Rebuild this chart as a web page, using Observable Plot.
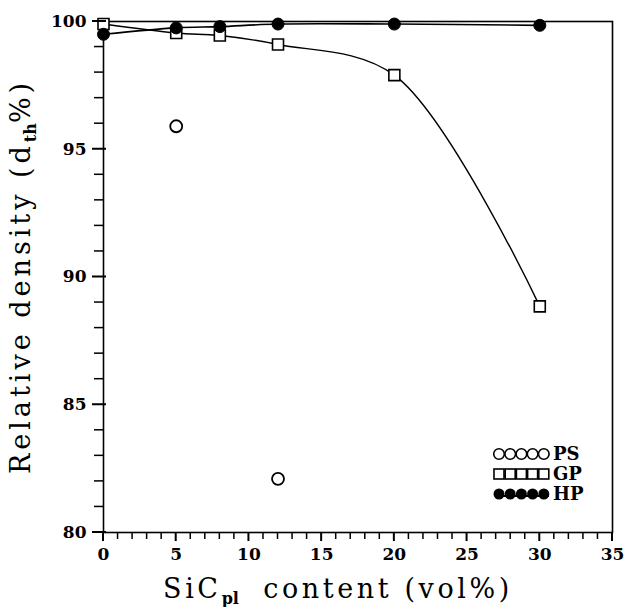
<!DOCTYPE html>
<html><head><meta charset="utf-8">
<script src="https://cdn.jsdelivr.net/npm/d3@7"></script>
<script src="https://cdn.jsdelivr.net/npm/@observablehq/plot@0.6"></script>
<style>
html,body{margin:0;padding:0;background:#fff;}
#chart{width:625px;height:607px;}
</style>
</head><body><div id="chart"></div>
<script>
// --- data ---
const psX = [5, 12];
const psY = [95.9, 82.1];
const gpX = [0, 5, 8, 12, 20, 30];
const gpY = [99.9, 99.55, 99.45, 99.1, 97.9, 88.85];
const hpX = [0, 5, 8, 12, 20, 30];
const hpY = [99.5, 99.75, 99.8, 99.9, 99.9, 99.85];
const xTicks = [0, 5, 10, 15, 20, 25, 30, 35];
const yTicks = [80, 85, 90, 95, 100];
const xMinorTicks = [0,1,2,3,4,5,6,7,8,9,10,11,12,13,14,15,16,17,18,19,20,21,22,23,24,25,26,27,28,29,30,31,32,33,34,35];
const yMinorTicks = [80,81,82,83,84,85,86,87,88,89,90,91,92,93,94,95,96,97,98,99,100];
const legendLabels = ["PS", "GP", "HP"];

const ps = psX.map((x, i) => ({x, y: psY[i]}));
const gp = gpX.map((x, i) => ({x, y: gpY[i]}));
const hp = hpX.map((x, i) => ({x, y: hpY[i]}));

const W = 625, H = 607;
const mL = 103, mR = 13, mT = 21, mB = 75;
const innerW = W - mL - mR, innerH = H - mT - mB;
const serif = "DejaVu Serif";

const chart = Plot.plot({
  width: W, height: H,
  marginLeft: mL, marginRight: mR, marginTop: mT, marginBottom: mB,
  x: {domain: [0, 35], axis: null},
  y: {domain: [80, 100], axis: null},
  style: {fontFamily: serif, background: "white"},
  marks: [
    Plot.text(xTicks, {x: d => d, frameAnchor: "bottom", dy: 22, lineAnchor: "middle", text: d => String(d),
      fontSize: 17, fontWeight: "bold", fill: "black", fontFamily: serif}),
    Plot.text(yTicks, {y: d => d, frameAnchor: "left", dx: -17, textAnchor: "end", text: d => String(d),
      fontSize: 17, fontWeight: "bold", fill: "black", fontFamily: serif}),
    Plot.frame({stroke: "black", strokeWidth: 1.6}),
    Plot.line(hp, {x: "x", y: "y", curve: "catmull-rom", stroke: "black", strokeWidth: 1.6}),
    Plot.line(gp, {x: "x", y: "y", curve: "catmull-rom", stroke: "black", strokeWidth: 1.4}),
    Plot.dot(ps, {x: "x", y: "y", r: 6, stroke: "black", strokeWidth: 1.8, fill: "white"}),
    Plot.dot(gp, {x: "x", y: "y", r: 6.2, symbol: "square", stroke: "black", strokeWidth: 1.6, fill: "white"}),
    Plot.dot(hp, {x: "x", y: "y", r: 6, fill: "black", stroke: "black", strokeWidth: 1})
  ]
});
document.getElementById("chart").appendChild(chart);

const svg = d3.select(chart);
const sx = chart.scale("x"), sy = chart.scale("y");
const x0 = Math.round(sx.apply(0)), yBase = Math.round(sy.apply(80));

// outward ticks as filled rectangles, positioned with the plot's scales
const tg = svg.append("g").attr("fill", "black");
xMinorTicks.forEach(v => {
  const major = xTicks.includes(v);
  const px = sx.apply(v);
  const w = major ? 2 : 1.5;
  tg.append("rect").attr("x", px - w / 2).attr("y", yBase).attr("width", w).attr("height", major ? 9 : 7);
});
yMinorTicks.forEach(v => {
  const major = yTicks.includes(v);
  const py = sy.apply(v);
  const h = major ? 2 : 1.5;
  const len = major ? 11 : 9;
  tg.append("rect").attr("x", x0 - len).attr("y", py - h / 2).attr("width", len + (major ? 3 : 0)).attr("height", h);
});

// Axis titles with subscripts
const yt = svg.append("text")
  .attr("transform", `translate(${mL - 73},${mT + innerH / 2}) rotate(-90)`)
  .attr("text-anchor", "middle")
  .attr("font-family", serif)
  .attr("font-size", 27)
  .attr("font-weight", "normal")
  .attr("letter-spacing", "4px")
  .attr("fill", "black");
yt.append("tspan").text("Relative density (d");
yt.append("tspan").attr("dy", 6).attr("font-size", 16).attr("font-weight", "bold").attr("letter-spacing", "0px").text("th");
yt.append("tspan").attr("dy", -6).text("%)");

const xt = svg.append("text")
  .attr("x", 338).attr("y", H - 9)
  .attr("text-anchor", "middle")
  .attr("font-family", serif)
  .attr("font-size", 27)
  .attr("font-weight", "normal")
  .attr("letter-spacing", "3.6px")
  .attr("fill", "black");
xt.append("tspan").text("SiC");
xt.append("tspan").attr("dy", 6).attr("font-size", 16).attr("font-weight", "bold").attr("letter-spacing", "0px").text("pl");
xt.append("tspan").attr("dy", -6).text("\u00a0 content (vol%)");

// Legend (inside the plot, bottom right)
const lg = svg.append("g").attr("transform", "translate(499,454)");
legendLabels.forEach((lab, row) => {
  const g = lg.append("g").attr("transform", `translate(0,${row * 20})`);
  if (lab !== "PS") {
    g.append("line").attr("x1", -3).attr("x2", 50).attr("y1", 2).attr("y2", 2)
      .attr("stroke", "black").attr("stroke-width", 2);
  }
  for (let k = 0; k < 5; k++) {
    const cx = k * 11.2;
    if (lab === "PS") {
      g.append("circle").attr("cx", cx).attr("cy", 0).attr("r", 5.3)
        .attr("fill", "white").attr("stroke", "black").attr("stroke-width", 1.6);
    } else if (lab === "GP") {
      g.append("rect").attr("x", cx - 5).attr("y", -5).attr("width", 10).attr("height", 10)
        .attr("fill", "white").attr("stroke", "black").attr("stroke-width", 1.6);
    } else {
      g.append("circle").attr("cx", cx).attr("cy", 0).attr("r", 5.5).attr("fill", "black");
    }
  }
  g.append("text").attr("x", 54).attr("y", 6).attr("text-anchor", "start")
    .attr("font-family", serif).attr("font-size", 18).attr("font-weight", "bold")
    .attr("fill", "black").text(lab);
});
</script>
</body></html>
